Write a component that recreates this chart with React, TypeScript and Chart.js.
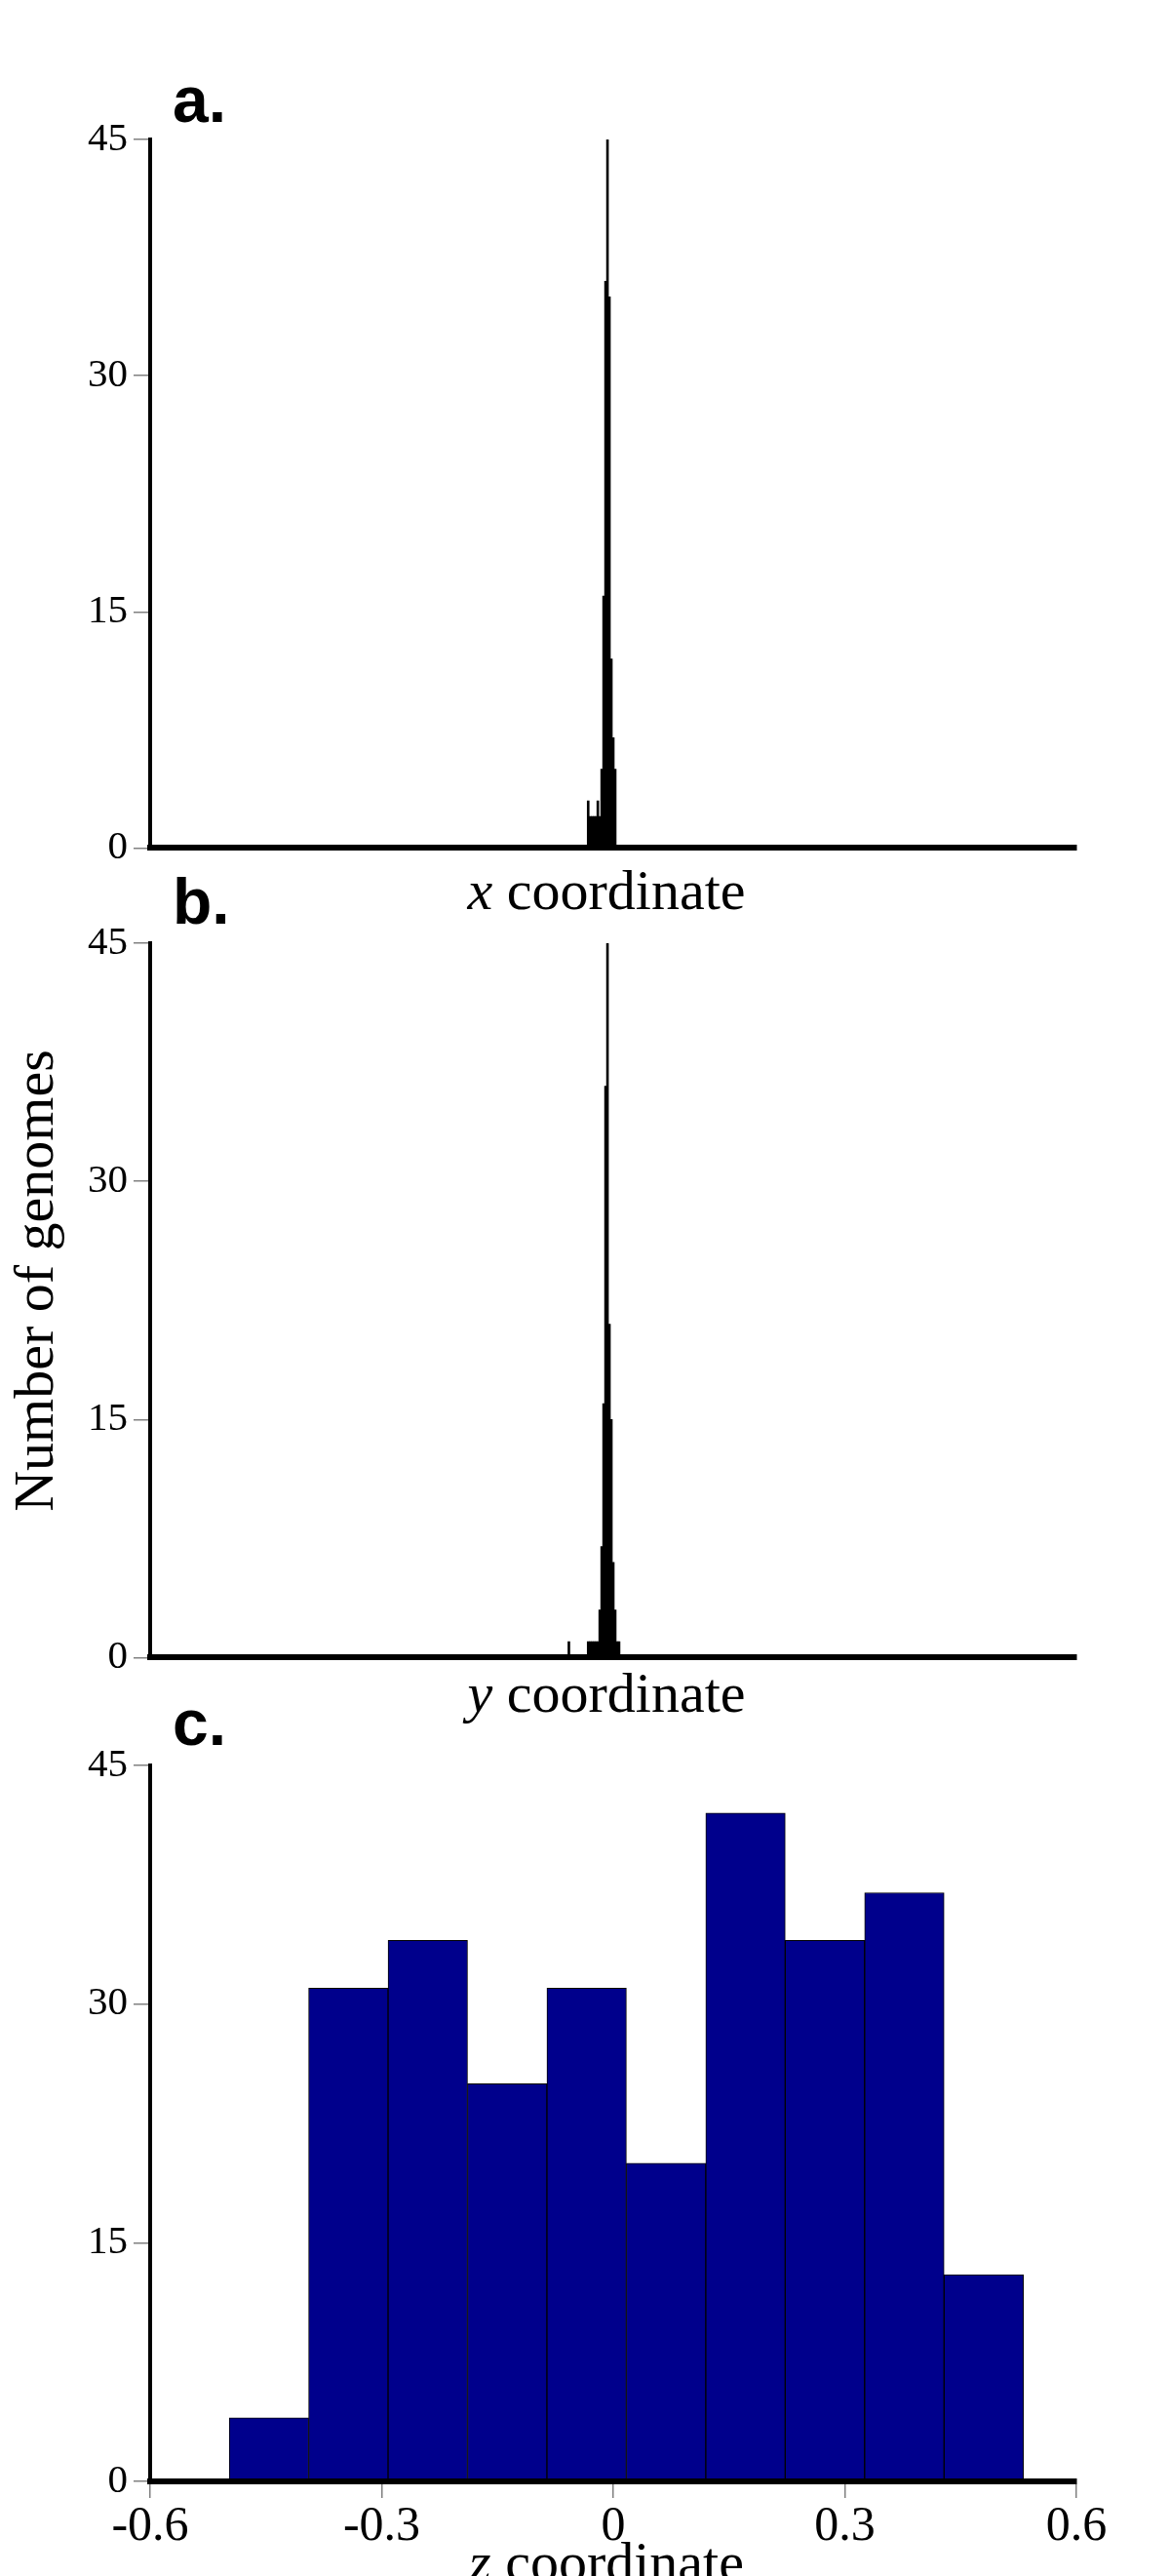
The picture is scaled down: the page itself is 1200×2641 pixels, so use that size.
import React, { useEffect, useRef } from "react";
import { Chart, registerables } from "chart.js";

Chart.register(...registerables);

// ---- data ----
const yTickValues = [0, 15, 30, 45];
const xTickValues = [-0.6, -0.3, 0, 0.3, 0.6];
const xTickLabels = ["-0.6", "-0.3", "0", "0.3", "0.6"];

// panel a: x coordinate histogram (bin centres, counts)
const xBinsA = [-0.0325, -0.03, -0.0275, -0.025, -0.0225, -0.02, -0.0175, -0.015, -0.0125, -0.01, -0.0075, -0.005, -0.0025, 0, 0.0025];
const countsA = [3, 2, 2, 2, 2, 3, 2, 5, 16, 36, 45, 35, 12, 7, 5];

// panel b: y coordinate histogram
const yBinsB = [-0.0575, -0.0325, -0.03, -0.0275, -0.025, -0.0225, -0.02, -0.0175, -0.015, -0.0125, -0.01, -0.0075, -0.005, -0.0025, 0, 0.0025, 0.005, 0.0075];
const countsB = [1, 1, 1, 1, 1, 1, 1, 3, 7, 16, 36, 45, 21, 15, 6, 3, 1, 1];

// panel c: z coordinate histogram
const zBins = [-0.4461, -0.3432, -0.2403, -0.1374, -0.0345, 0.0684, 0.1713, 0.2742, 0.3771, 0.48];
const countsZ = [4, 31, 34, 25, 31, 20, 42, 34, 37, 13];

const SERIF = "'Liberation Serif', 'Times New Roman', serif";
const SANS = "'Liberation Sans', Arial, sans-serif";

type PanelProps = {
  top: number;
  height: number;
  bins: number[];
  counts: number[];
  fill: string;
  stroke: string;
  strokeWidth: number;
  padTop: number;
  axisH: number;
  showX: boolean;
};

function Panel(p: PanelProps) {
  const ref = useRef<HTMLCanvasElement>(null);
  useEffect(() => {
    const chart = new Chart(ref.current as HTMLCanvasElement, {
      type: "bar",
      data: {
        datasets: [
          {
            data: p.bins.map((x, i) => ({ x, y: p.counts[i] })),
            backgroundColor: p.fill,
            borderColor: p.stroke,
            borderWidth: p.strokeWidth,
            barPercentage: 1,
            categoryPercentage: 1,
          } as any,
        ],
      },
      options: {
        responsive: false,
        maintainAspectRatio: false,
        animation: false,
        events: [],
        layout: { padding: { top: p.padTop, left: 0, right: 96, bottom: 0 } },
        plugins: { legend: { display: false }, tooltip: { enabled: false }, title: { display: false } },
        scales: {
          x: {
            type: "linear",
            min: -0.6,
            max: 0.6,
            offset: false,
            grid: {
              offset: false,
              drawOnChartArea: false,
              drawTicks: p.showX,
              tickLength: 17,
              color: "#808080",
              lineWidth: 1.5,
            },
            border: { display: true, color: "#000", width: 6, z: 1 },
            ticks: {
              display: p.showX,
              font: { family: SERIF, size: 50 },
              color: "#000",
              padding: 0,
              maxRotation: 0,
              autoSkip: false,
              callback: (v: any) => {
                const idx = xTickValues.findIndex((t) => Math.abs(t - Number(v)) < 1e-6);
                return idx >= 0 ? xTickLabels[idx] : "";
              },
            },
            afterBuildTicks: (s: any) => {
              s.ticks = xTickValues.map((v) => ({ value: v }));
            },
            afterFit: (s: any) => {
              s.height = p.axisH;
            },
          } as any,
          y: {
            type: "linear",
            min: 0,
            max: 45,
            grid: {
              drawOnChartArea: false,
              drawTicks: true,
              tickLength: 17,
              color: "#808080",
              lineWidth: 1.5,
            },
            border: { display: true, color: "#000", width: 4, z: 1 },
            ticks: {
              font: { family: SERIF, size: 41 },
              color: "#000",
              padding: 6,
              callback: (v: any) => String(v),
            },
            afterBuildTicks: (s: any) => {
              s.ticks = yTickValues.map((v) => ({ value: v }));
            },
            afterFit: (s: any) => {
              s.width = 154;
            },
          } as any,
        },
      },
    });
    return () => chart.destroy();
  }, []);
  return (
    <canvas
      ref={ref}
      width={1200}
      height={p.height}
      style={{ position: "absolute", left: 0, top: p.top, width: 1200, height: p.height }}
    />
  );
}

function Label(props: { left: number; top: number; size: number; family: string; bold?: boolean; children: any; width?: number; center?: boolean }) {
  return (
    <div
      style={{
        position: "absolute",
        left: props.left,
        top: props.top,
        width: props.width,
        fontFamily: props.family,
        fontSize: props.size,
        lineHeight: props.size + "px",
        fontWeight: props.bold ? "bold" : "normal",
        textAlign: props.center ? "center" : "left",
        whiteSpace: "nowrap",
        color: "#000",
      }}
    >
      {props.children}
    </div>
  );
}

export default function App() {
  return (
    <div
      style={{
        position: "absolute",
        left: 0,
        top: 0,
        width: 1200,
        height: 2641,
        overflow: "hidden",
        background: "#fff",
      }}
    >
      <Panel top={0} height={900} bins={xBinsA} counts={countsA} fill="#000" stroke="#000" strokeWidth={0} padTop={143} axisH={21} showX={false} />
      <Panel top={900} height={830} bins={yBinsB} counts={countsB} fill="#000" stroke="#000" strokeWidth={0} padTop={67} axisH={26} showX={false} />
      <Panel top={1730} height={911} bins={zBins} counts={countsZ} fill="#00008c" stroke="#000" strokeWidth={1} padTop={80} axisH={97} showX={true} />

      <Label left={177} top={69} size={66} family={SANS} bold>a.</Label>
      <Label left={177} top={891} size={66} family={SANS} bold>b.</Label>
      <Label left={177} top={1733} size={66} family={SANS} bold>c.</Label>

      <Label left={322} top={884} width={600} size={58} family={SERIF} center>
        <i>x</i> coordinate
      </Label>
      <Label left={322} top={1707} width={600} size={58} family={SERIF} center>
        <i>y</i> coordinate
      </Label>
      <Label left={322} top={2598} width={600} size={58} family={SERIF} center>
        <i>z</i> coordinate
      </Label>

      <div
        style={{
          position: "absolute",
          left: 35 - 300,
          top: 1313 - 29,
          width: 600,
          height: 58,
          fontFamily: SERIF,
          fontSize: 58,
          lineHeight: "58px",
          textAlign: "center",
          whiteSpace: "nowrap",
          transform: "rotate(-90deg)",
          transformOrigin: "50% 50%",
          color: "#000",
        }}
      >
        Number of genomes
      </div>
    </div>
  );
}
